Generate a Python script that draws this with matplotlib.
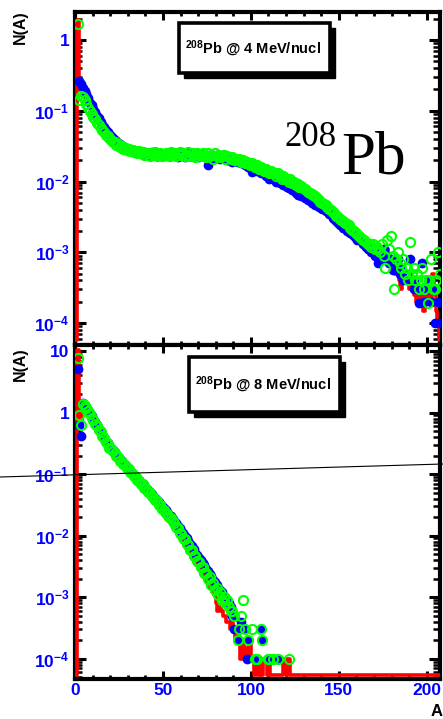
import numpy as np
import matplotlib
matplotlib.use('Agg')
import matplotlib.pyplot as plt
from matplotlib.ticker import FixedLocator, FixedFormatter, LogLocator, MultipleLocator, NullFormatter
from matplotlib.patches import Rectangle
from matplotlib.lines import Line2D

plt.rcParams['font.family'] = ['Liberation Sans', 'DejaVu Sans']
plt.rcParams['font.weight'] = 'bold'
plt.rcParams['mathtext.fontset'] = 'custom'
plt.rcParams['mathtext.rm'] = 'Liberation Sans:bold'
plt.rcParams['mathtext.it'] = 'Liberation Sans:bold'
plt.rcParams['mathtext.bf'] = 'Liberation Sans:bold'
plt.rcParams['mathtext.default'] = 'rm'

nan = np.nan

# ---------------- 4 MeV/nucl panel (A = 1..207) ----------------
A4 = np.arange(1, 208)
green4 = [1.7, 0.14, 0.16, 0.155, 0.14, 0.125, 0.11, 0.10, 0.09, 0.083,
          0.076, 0.068, 0.063, 0.058, 0.053, 0.050, 0.046, 0.044, 0.041, 0.039,
          0.036, 0.036, 0.033, 0.034, 0.031, 0.032, 0.029, 0.030, 0.028, 0.029,
          0.027, 0.028, 0.026, 0.027, 0.025, 0.027, 0.025, 0.026, 0.024, 0.025,
          0.025, 0.023, 0.025, 0.024, 0.026, 0.023, 0.024, 0.025, 0.023, 0.024,
          0.025, 0.024, 0.023, 0.026, 0.024, 0.025, 0.023, 0.025, 0.026, 0.024,
          0.025, 0.023, 0.024, 0.026, 0.023, 0.025, 0.024, 0.022, 0.025, 0.024,
          0.023, 0.025, 0.024, 0.022, 0.025, 0.023, 0.024, 0.021, 0.025, 0.023,
          0.024, 0.022, 0.023, 0.024, 0.021, 0.023, 0.022, 0.021, 0.022, 0.020,
          0.021, 0.020, 0.021, 0.019, 0.020, 0.018, 0.019, 0.018, 0.017, 0.018,
          0.017, 0.016, 0.017, 0.015, 0.016, 0.015, 0.014, 0.015, 0.014, 0.013,
          0.014, 0.013, 0.013, 0.012, 0.013, 0.012, 0.011, 0.012, 0.011, 0.011,
          0.010, 0.011, 0.0095, 0.0098, 0.0090, 0.0092, 0.0084, 0.0086, 0.0080, 0.0078,
          0.0075, 0.0072, 0.0070, 0.0066, 0.0064, 0.0062, 0.0058, 0.0055, 0.0052, 0.0050,
          0.0048, 0.0046, 0.0043, 0.0041, 0.0040, 0.0037, 0.0036, 0.0033, 0.0032, 0.0030,
          0.0029, 0.0028, 0.0026, 0.0025, 0.0024, 0.0022, 0.0021, 0.0020, 0.0019, 0.0018,
          0.0017, 0.0016, 0.0015, 0.0015, 0.0014, 0.0013, 0.0013, 0.0012, 0.0013, 0.0011,
          0.0012, 0.0011, 0.0010, 0.0013, 0.0009, 0.0006, 0.0015, 0.0011, 0.0017, 0.0009,
          0.0003, 0.0008, 0.0010, 0.0007, 0.0006, 0.0008, 0.0005, 0.0006, 0.0004, 0.0014,
          0.0005, 0.0006, 0.0004, 0.0005, 0.0003, 0.0004, 0.0006, 0.0003, 0.0004, 0.00019,
          0.0004, 0.0008, 0.0003, 0.0003, 0.0004, 0.0010, 0.0005]
blue4 = [nan, 0.26, 0.24, 0.21, 0.19, 0.17, 0.15, 0.13, 0.12, 0.105,
         0.095, 0.085, 0.078, 0.070, 0.064, 0.059, 0.054, 0.050, 0.047, 0.044,
         0.041, 0.039, 0.037, 0.035, 0.034, 0.032, 0.031, 0.030, 0.030, 0.029,
         0.028, 0.027, 0.028, 0.026, 0.027, 0.025, 0.026, 0.025, 0.026, 0.024,
         0.025, 0.024, 0.026, 0.024, 0.025, 0.023, 0.025, 0.024, 0.024, 0.023,
         0.024, 0.025, 0.024, 0.023, 0.025, 0.024, 0.024, 0.022, 0.025, 0.024,
         0.024, 0.022, 0.025, 0.024, 0.024, 0.023, 0.025, 0.023, 0.024, 0.022,
         0.024, 0.023, 0.025, 0.022, 0.017, 0.023, 0.021, 0.024, 0.022, 0.023,
         0.023, 0.021, 0.024, 0.022, 0.023, 0.020, 0.022, 0.021, 0.019, 0.021,
         0.020, 0.019, 0.020, 0.018, 0.019, 0.017, 0.018, 0.016, 0.017, 0.0137,
         0.015, 0.016, 0.014, 0.015, 0.013, 0.014, 0.013, 0.012, 0.013, 0.011,
         0.012, 0.011, 0.012, 0.010, 0.011, 0.0095, 0.010, 0.0090, 0.0095, 0.0085,
         0.0080, 0.0085, 0.0075, 0.0078, 0.0070, 0.0064, 0.0068, 0.0062, 0.0065, 0.0058,
         0.0060, 0.0055, 0.0057, 0.0050, 0.0052, 0.0047, 0.0050, 0.0044, 0.0046, 0.0041,
         0.0043, 0.0038, 0.0040, 0.0035, 0.0040, 0.0031, 0.0030, 0.0028, 0.0026, 0.0024,
         0.0025, 0.0022, 0.0023, 0.0020, 0.0021, 0.0019, 0.0018, 0.0017, 0.0016, 0.0015,
         0.0016, 0.0015, 0.0013, 0.0014, 0.0012, 0.0011, 0.0012, 0.0010, 0.0011, 0.0009,
         0.0010, 0.0007, 0.0009, 0.0010, 0.0011, 0.0008, 0.0009, 0.0007, 0.0008, 0.00056,
         0.0007, 0.0006, 0.0008, 0.0005, 0.0006, 0.0004, 0.0005, 0.0004, 0.0005, 0.0008,
         0.0004, 0.0003, 0.0004, 0.0003, 0.00019, 0.0003, 0.0007, 0.0002, 0.0003, 0.0004,
         0.0003, 0.0002, 0.0003, 0.0001, 0.0003, 0.0002, 0.0001]
# red histogram, bins A = 0..207 (0 = empty bin)
red4 = [0,
        1.9, 0.20, 0.20, 0.18, 0.16, 0.145, 0.13, 0.115, 0.105, 0.094,
        0.085, 0.077, 0.070, 0.064, 0.058, 0.054, 0.050, 0.047, 0.044, 0.041,
        0.039, 0.037, 0.035, 0.034, 0.033, 0.032, 0.030, 0.030, 0.029, 0.029,
        0.028, 0.027, 0.027, 0.026, 0.026, 0.026, 0.025, 0.025, 0.025, 0.025,
        0.024, 0.024, 0.025, 0.024, 0.025, 0.024, 0.024, 0.024, 0.023, 0.024,
        0.024, 0.024, 0.024, 0.025, 0.024, 0.024, 0.024, 0.024, 0.025, 0.024,
        0.024, 0.023, 0.024, 0.025, 0.024, 0.024, 0.024, 0.023, 0.024, 0.023,
        0.024, 0.024, 0.024, 0.023, 0.024, 0.023, 0.023, 0.023, 0.024, 0.023,
        0.023, 0.022, 0.023, 0.023, 0.022, 0.022, 0.022, 0.021, 0.021, 0.021,
        0.020, 0.020, 0.020, 0.019, 0.019, 0.018, 0.018, 0.017, 0.017, 0.017,
        0.016, 0.016, 0.015, 0.015, 0.015, 0.014, 0.014, 0.013, 0.013, 0.013,
        0.013, 0.012, 0.012, 0.011, 0.012, 0.011, 0.011, 0.010, 0.010, 0.0098,
        0.0090, 0.0095, 0.0085, 0.0088, 0.0082, 0.0078, 0.0076, 0.0074, 0.0072, 0.0068,
        0.0068, 0.0064, 0.0063, 0.0058, 0.0058, 0.0055, 0.0054, 0.0050, 0.0049, 0.0046,
        0.0045, 0.0042, 0.0041, 0.0038, 0.0040, 0.0034, 0.0033, 0.0030, 0.0029, 0.0027,
        0.0027, 0.0025, 0.0024, 0.0022, 0.0022, 0.0020, 0.0019, 0.0018, 0.0017, 0.0016,
        0.0016, 0.0015, 0.0014, 0.0014, 0.0013, 0.0012, 0.0012, 0.0011, 0.0012, 0.0010,
        0.0011, 0.0009, 0.0012, 0.0008, 0.0010, 0.0009, 0.0011, 0.0007, 0.0008, 0.0006,
        0.0007, 0.0005, 0.0007, 0.0004, 0.0003, 0.0005, 0.0004, 0.0004, 0.0005, 0.0003,
        0.0004, 0.0003, 0.00025, 0.0002, 0.0003, 0.0002, 0.0003, 0.00015, 0.0003, 0.0002,
        0.0004, 0.0002, 0.0005, 0.0003, 0.00015, 0.0001, 0]

# ---------------- 8 MeV/nucl panel (A = 1..125) ----------------
A8 = np.arange(1, 126)
green8 = [7.7, 0.91, 0.63, 1.40, 1.28, 1.18, 1.04, 0.95, 0.83, 0.76,
          0.66, 0.61, 0.52, 0.48, 0.41, 0.38, 0.33, 0.31, 0.27, 0.26,
          0.235, 0.22, 0.195, 0.19, 0.165, 0.16, 0.145, 0.14, 0.124, 0.12,
          0.107, 0.104, 0.093, 0.091, 0.081, 0.078, 0.070, 0.068, 0.060, 0.058,
          0.051, 0.050, 0.044, 0.043, 0.038, 0.037, 0.032, 0.031, 0.027, 0.026,
          0.023, 0.0225, 0.020, 0.0195, 0.017, 0.0162, 0.014, 0.0133, 0.0112, 0.0107,
          0.0091, 0.0088, 0.0074, 0.0071, 0.0059, 0.0058, 0.0047, 0.0046, 0.0039, 0.0038,
          0.0031, 0.0031, 0.0025, 0.0025, 0.0020, 0.0021, 0.0016, 0.0017, 0.0013, 0.0014,
          0.0011, 0.0012, 0.0009, 0.0010, 0.0008, 0.0009, 0.0007, 0.0006, 0.0006, 0.0005,
          nan, 0.0002, 0.0003, 0.0005, 0.0009, 0.0003, nan, 0.0002, nan, 0.0003,
          nan, 0.0001, 0.0001, nan, 0.0003, 0.0002, nan, nan, 0.0001, 0.0001,
          nan, 0.0001, nan, nan, 0.0001, nan, nan, nan, nan, nan,
          0.0001, nan, nan, nan, nan]
blue8 = [5.1, 0.62, 0.42, 1.45, 1.32, 1.2, 1.08, 0.97, 0.87, 0.78,
         0.70, 0.62, 0.55, 0.50, 0.44, 0.39, 0.35, 0.32, 0.29, 0.27,
         0.245, 0.225, 0.205, 0.19, 0.175, 0.165, 0.152, 0.14, 0.13, 0.122,
         0.113, 0.105, 0.097, 0.091, 0.085, 0.079, 0.073, 0.068, 0.064, 0.059,
         0.055, 0.051, 0.048, 0.044, 0.041, 0.038, 0.035, 0.033, 0.030, 0.028,
         0.026, 0.024, 0.022, 0.0205, 0.019, 0.0175, 0.016, 0.0145, 0.0135, 0.012,
         0.011, 0.0099, 0.0090, 0.0081, 0.0073, 0.0068, 0.0060, 0.0053, 0.0049, 0.0044,
         0.0040, 0.0036, 0.0033, 0.0029, 0.0027, 0.0024, 0.0022, 0.0019, 0.0018, 0.0016,
         0.0014, 0.0013, 0.0012, 0.0010, 0.0010, 0.0008, 0.0008, 0.0007, 0.0005, 0.0003,
         nan, 0.0002, 0.0003, 0.0004, nan, 0.0003, 0.0001, 0.0002, nan, nan,
         nan, 0.0001, 0.0001, nan, 0.0003, 0.0002, nan, nan, 0.0001, 0.0001,
         nan, 0.0001, nan, nan, 0.0001, nan, nan, nan, nan, nan,
         nan, nan, nan, nan, nan]
red8 = [0,
        10.5, 0.85, 0.55, 1.3, 1.2, 1.08, 0.96, 0.86, 0.77, 0.69,
        0.61, 0.55, 0.49, 0.43, 0.39, 0.34, 0.31, 0.28, 0.255, 0.235,
        0.215, 0.195, 0.18, 0.165, 0.153, 0.142, 0.132, 0.122, 0.113, 0.105,
        0.097, 0.091, 0.084, 0.078, 0.073, 0.068, 0.063, 0.058, 0.054, 0.050,
        0.046, 0.043, 0.040, 0.037, 0.034, 0.031, 0.029, 0.026, 0.024, 0.022,
        0.020, 0.019, 0.017, 0.016, 0.0145, 0.013, 0.012, 0.011, 0.0098, 0.0088,
        0.0079, 0.0071, 0.0064, 0.0058, 0.0052, 0.0046, 0.0042, 0.0038, 0.0034, 0.0030,
        0.0027, 0.0024, 0.0021, 0.0019, 0.0017, 0.0015, 0.0014, 0.0012, 0.0011, 0.0008,
        0.0006, 0.0007, 0.0006, 0.0005, 0.0005, 0.0004, 0.0004, 0.0003, 0.0004, 0.0003,
        0.0002, 0.00025, 0.0002, 0.0001, 0.0002, 0.0001, 0.00015, 0.0001, 0.0002, 0.0001,
        0.0001, 0, 0.0001, 0, 0.0001, 0, 0.0001, 0.0001, 0, 0.0001,
        0, 0, 0, 0, 0, 0, 0, 0.0001, 0.0001, 0,
        0.0001] + [0] * 86

ylim4 = (4.9e-5, 2.49)
yticks4 = [1e-4, 1e-3, 1e-2, 1e-1, 1]
ylabels4 = ['$10^{-4}$', '$10^{-3}$', '$10^{-2}$', '$10^{-1}$', '1']
ylim8 = (4.7e-5, 12.5)
yticks8 = [1e-4, 1e-3, 1e-2, 1e-1, 1, 10]
ylabels8 = ['$10^{-4}$', '$10^{-3}$', '$10^{-2}$', '$10^{-1}$', '1', '10']
xticks = [0, 50, 100, 150, 200]

W, H = 443, 719
fig = plt.figure(figsize=(W / 100, H / 100), dpi=100)


def fx(px):
    return px / W


def fy(py):
    return 1 - py / H


ax1 = fig.add_axes([fx(75), fy(345), fx(440) - fx(75), fy(12) - fy(345)])
ax2 = fig.add_axes([fx(75), fy(679), fx(440) - fx(75), fy(345) - fy(679)])

BLUE = '#0000ff'
GREEN = '#00ff00'
RED = '#ff0000'


def draw(ax, A, blue, green, red, ylim, yticks, ylabels, show_x):
    bins = np.arange(len(red))
    r = np.array(red, float)
    # empty bins are drawn on the lower frame edge, as ROOT does
    r = np.where(r > 0, r, ylim[0] * 1.18)
    ax.step(bins + 0.5, r, where='mid', color=RED, lw=2.6, zorder=2.6)
    ax.plot(A + 0.5, blue, ls='none', marker='o', ms=6.0, color=BLUE, mec=BLUE, zorder=3)
    ax.plot(A + 0.5, green, ls='none', marker='o', ms=6.6, mfc='none', mec=GREEN, mew=1.5, zorder=4)
    ax.set_yscale('log')
    ax.set_xlim(0, 207.5)
    ax.set_ylim(*ylim)
    ax.yaxis.set_major_locator(FixedLocator(yticks))
    ax.yaxis.set_major_formatter(FixedFormatter(ylabels))
    ax.yaxis.set_minor_locator(LogLocator(base=10, subs=np.arange(2, 10), numticks=30))
    ax.yaxis.set_minor_formatter(NullFormatter())
    ax.xaxis.set_major_locator(FixedLocator(xticks))
    ax.xaxis.set_minor_locator(MultipleLocator(10))
    ax.tick_params(which='both', direction='in', top=True, right=True, colors='black',
                   labelcolor=BLUE, labelsize=12.5)
    ax.tick_params(axis='y', which='major', length=8, width=2.2, pad=4)
    ax.tick_params(axis='y', which='minor', length=5, width=1.8)
    ax.tick_params(axis='x', which='major', length=5.5, width=2.2, pad=3)
    ax.tick_params(axis='x', which='minor', length=3, width=2.0)
    ax.tick_params(labelbottom=show_x)
    for s in ax.spines.values():
        s.set_linewidth(3)
    for lab in ax.get_xticklabels() + ax.get_yticklabels():
        lab.set_fontweight('bold')


draw(ax1, A4, blue4, green4, red4, ylim4, yticks4, ylabels4, False)
draw(ax2, A8, blue8, green8, red8, ylim8, yticks8, ylabels8, True)


def box(x0, y0, x1, y1, text, tx, ty):
    w = fx(x1) - fx(x0)
    h = fy(y0) - fy(y1)
    sh = Rectangle((fx(x0 + 5), fy(y1 + 5)), w, h, transform=fig.transFigure,
                   fc='black', ec='black', lw=1, zorder=10)
    mn = Rectangle((fx(x0), fy(y1)), w, h, transform=fig.transFigure,
                   fc='white', ec='black', lw=2.6, zorder=11)
    fig.add_artist(sh)
    fig.add_artist(mn)
    fig.text(fx(tx), fy(ty), text, ha='center', va='center', fontsize=10.5,
             weight='bold', color='black', zorder=12)


box(179, 23, 330, 73, r'$^{208}$Pb @ 4 MeV/nucl', 253, 49)
box(189, 357, 340, 412, r'$^{208}$Pb @ 8 MeV/nucl', 263, 385)

# big isotope label
fig.text(fx(285), fy(146), '208', fontsize=25, family='Liberation Serif',
         weight='normal', va='baseline', ha='left')
fig.text(fx(341), fy(173), 'Pb', fontsize=44, family='Liberation Serif',
         weight='normal', va='baseline', ha='left')

# axis titles
fig.text(fx(20), fy(27), 'N(A)', rotation=90, ha='center', va='center',
         fontsize=11.5, weight='bold')
fig.text(fx(20), fy(364), 'N(A)', rotation=90, ha='center', va='center',
         fontsize=11.5, weight='bold')
fig.text(fx(437), fy(712), 'A', ha='center', va='center', fontsize=12, weight='bold')

# stray thin line crossing the lower panel
fig.add_artist(Line2D([0, 1], [fy(477), fy(464)], transform=fig.transFigure,
                      color='black', lw=0.8, zorder=20))

fig.savefig('out.png', dpi=100)
